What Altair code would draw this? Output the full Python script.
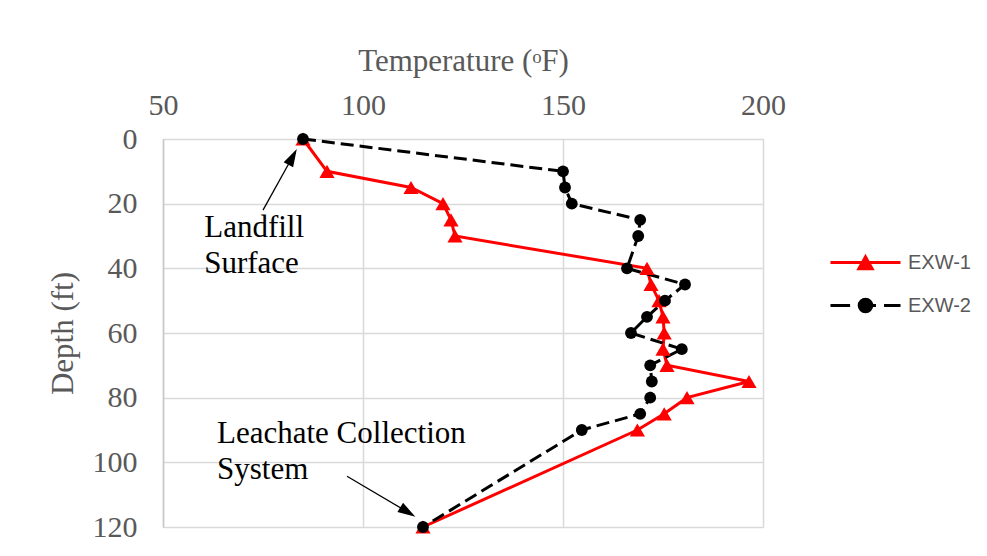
import altair as alt
import pandas as pd

# ---- data ----
depth = [0, 10, 15, 20, 25, 30, 40, 45, 50, 55, 60, 65, 70, 75, 80, 85, 90, 120]
exw1 = [85, 91, 112, 120, 122, 123, 171, 172, 174, 175, 175.3, 175, 176, 196.5, 181, 175.3, 168.6, 115]
exw2 = [85, 150, 150.5, 152.2, 169.3, 168.8, 166, 180.5, 175.5, 171, 167, 179.7, 171.8, 172.2, 171.8, 169.3, 154.7, 115]
series_names = ["EXW-1", "EXW-2"]
series_colors = ["#ff0000", "#000000"]
x_ticks = [50, 100, 150, 200]
y_ticks = [0, 20, 40, 60, 80, 100, 120]

# annotations (data units)
ann_text = ["Landfill\nSurface", "Leachate Collection\nSystem"]
ann_temp = [60.3, 63.5]
ann_depth = [30.3, 94.0]
arrow_t0 = [75.0, 96.0]
arrow_d0 = [22.0, 104.3]
arrow_t1 = [82.4, 111.2]
arrow_d1 = [5.5, 115.4]
arrow_angle = [28, 122]

df1 = pd.DataFrame({"depth": depth, "temp": exw1})
df2 = pd.DataFrame({"depth": depth, "temp": exw2})
ann_df = pd.DataFrame({"text": ann_text, "temp": ann_temp, "depth": ann_depth})
arr_df = pd.DataFrame({"t0": arrow_t0, "d0": arrow_d0, "t1": arrow_t1, "d1": arrow_d1, "angle": arrow_angle})

SERIF = "Liberation Serif"
GRAY = "#595959"
GRID = "#d9d9d9"

xs = alt.Scale(domain=[50, 200], nice=False, zero=False)
ys = alt.Scale(domain=[0, 120], nice=False, reverse=True)

x_enc = alt.X("temp:Q", scale=xs, axis=alt.Axis(
    orient="top", values=x_ticks, title="Temperature (ᵒF)", ticks=False, domain=False,
    grid=True, gridColor=GRID, gridWidth=1.5, labelFlush=False, labelOverlap=False,
    labelFont=SERIF, labelFontSize=30, labelColor=GRAY, labelPadding=19,
    titleFont=SERIF, titleFontSize=31, titleColor=GRAY, titleFontWeight="normal",
    titleX=300, titleY=-69, titleBaseline="alphabetic", titleAlign="center"))
y_enc = alt.Y("depth:Q", scale=ys, axis=alt.Axis(
    values=y_ticks, title="Depth (ft)", ticks=False, domain=True, domainColor="#c8c8c8", domainWidth=1.5,
    grid=True, gridColor=GRID, gridWidth=1.5, labelFlush=False, labelOverlap=False,
    labelFont=SERIF, labelFontSize=30, labelColor=GRAY, labelPadding=26, labelBaseline="middle",
    titleFont=SERIF, titleFontSize=31, titleColor=GRAY, titleFontWeight="normal",
    titleX=-91, titleY=194, titleAngle=-90, titleBaseline="alphabetic", titleAlign="center"))

line1 = alt.Chart(df1).mark_line(color=series_colors[0], strokeWidth=3).encode(
    x=x_enc, y=y_enc, order="depth:Q")
pts1 = alt.Chart(df1).mark_point(shape="triangle-up", filled=True, size=230, color=series_colors[0], opacity=1).encode(
    x="temp:Q", y="depth:Q")
line2 = alt.Chart(df2).mark_line(color=series_colors[1], strokeWidth=3, strokeDash=[13, 6]).encode(
    x="temp:Q", y="depth:Q", order="depth:Q")
pts2 = alt.Chart(df2).mark_point(shape="circle", filled=True, size=140, color=series_colors[1], opacity=1).encode(
    x="temp:Q", y="depth:Q")

text = alt.Chart(ann_df).mark_text(font=SERIF, fontSize=31, color="black", align="left",
                                   baseline="alphabetic", lineBreak="\n", lineHeight=36).encode(
    x="temp:Q", y="depth:Q", text="text:N")
arrows = alt.Chart(arr_df).mark_rule(color="black", strokeWidth=1.3).encode(
    x="t0:Q", y="d0:Q", x2="t1:Q", y2="d1:Q")
heads = alt.Chart(arr_df).mark_point(shape="M0,-1L0.6,1L-0.6,1Z", filled=True, size=320, color="black", opacity=1).encode(
    x="t1:Q", y="d1:Q", angle=alt.Angle("angle:Q", scale=None))

# legend symbols: custom paths (line + marker)
path1 = "M-1,0H1M0,-0.16L0.19,0.18L-0.19,0.18Z"
path2 = "M-1,0H-0.44M-0.17,0H0.3M0.53,0H1M0.18,0A0.18,0.18 0 1,1 -0.18,0A0.18,0.18 0 1,1 0.18,0Z"

leg_df = pd.DataFrame({"s1": [series_names[0]], "s2": [series_names[1]]})
common_leg = dict(orient="none", title=None, symbolSize=4900, symbolStrokeWidth=3,
                  labelFont="Liberation Sans", labelFontSize=20, labelColor=GRAY, labelOffset=6,
                  symbolOpacity=1)
leg1 = alt.Chart(leg_df).mark_point(filled=True, stroke=series_colors[0], strokeWidth=3).encode(
    fill=alt.Fill("s1:N", scale=alt.Scale(domain=[series_names[0]], range=[series_colors[0]]),
                  legend=alt.Legend(symbolType=path1, legendX=666, legendY=87, **common_leg))
).transform_filter("false")
leg2 = alt.Chart(leg_df).mark_point(filled=True, fill=series_colors[1], strokeWidth=3).encode(
    stroke=alt.Stroke("s2:N", scale=alt.Scale(domain=[series_names[1]], range=[series_colors[1]]),
                      legend=alt.Legend(symbolType=path2, legendX=666, legendY=130, **common_leg))
).transform_filter("false")

chart = alt.layer(line1, line2, pts1, pts2, arrows, heads, text, leg1, leg2).properties(
    width=600, height=388,
    autosize=alt.AutoSizeParams(type="none"),
    padding={"left": 155, "top": 131, "right": 216, "bottom": 21},
).configure_view(stroke=None).configure(background="white")

chart.save("out.html", embed_options={"renderer": "svg", "actions": False})
